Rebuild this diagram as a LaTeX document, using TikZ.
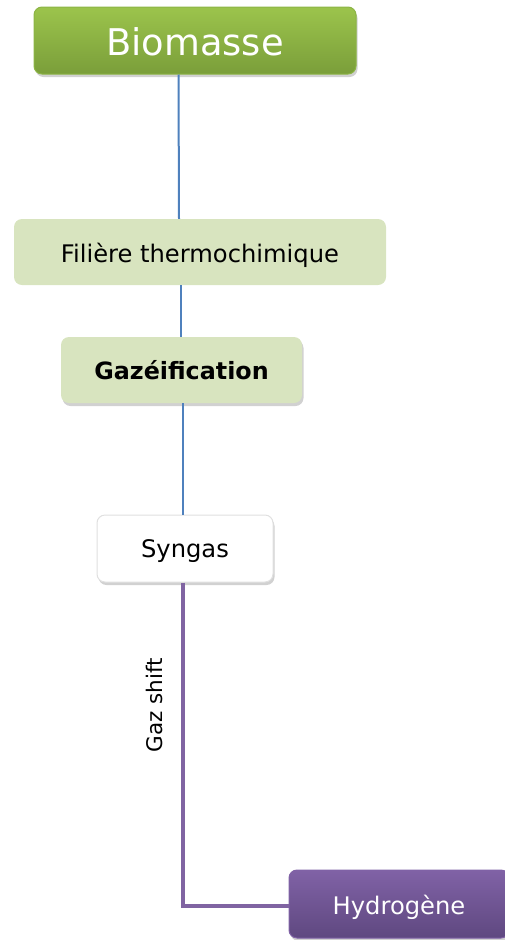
\documentclass[tikz,border=0pt]{standalone}
\usepackage{fontspec}
\setmainfont{DejaVu Sans}
\usetikzlibrary{shadows}
\definecolor{gtop}{HTML}{9CC44C}
\definecolor{gbot}{HTML}{7A9E3A}
\definecolor{gedge}{HTML}{8CB445}
\definecolor{lgreen}{HTML}{D8E4BF}
\definecolor{bline}{HTML}{4F81BD}
\definecolor{ptop}{HTML}{8062A6}
\definecolor{pbot}{HTML}{5F4880}
\definecolor{pline}{HTML}{8064A2}
\tikzset{
  box/.style={rounded corners=8pt, inner sep=0pt, align=center, text height=21pt, text depth=2pt},
  shad/.style={drop shadow={shadow xshift=1.5pt, shadow yshift=-3pt, opacity=0.3, fill=black!60}},
  bconn/.style={draw=bline, line width=2pt},
  pconn/.style={draw=pline, line width=4pt}
}
\begin{document}
\begin{tikzpicture}[x=1pt,y=-1pt]
\useasboundingbox (0,0) rectangle (505,940);
\node[box, shad, top color=gtop, bottom color=gbot, draw=gedge, line width=1pt,
  minimum width=322pt, minimum height=67pt, text=white, font=\fontsize{36.8}{40}\selectfont,
  text height=31pt, text depth=2pt]
  (bio) at (195,40.5) {Biomasse};
\node[box, fill=lgreen, minimum width=372pt, minimum height=66pt,
  font=\fontsize{24.2}{26}\selectfont, text height=23pt]
  (fil) at (200,252) {Filière thermochimique};
\node[box, shad, fill=lgreen, minimum width=241pt, minimum height=66pt,
  font=\bfseries\fontsize{23.8}{26}\selectfont, text height=21.5pt]
  (gaz) at (181.5,370) {Gazéification};
\node[box, shad, fill=white, draw=black!12, line width=1pt, minimum width=176pt, minimum height=67pt,
  font=\fontsize{24.2}{26}\selectfont, text height=20.5pt]
  (syn) at (185,548.5) {Syngas};
\node[box, shad, top color=ptop, bottom color=pbot, draw=ptop, line width=1pt,
  minimum width=220pt, minimum height=68pt, text=white, font=\fontsize{24.2}{26}\selectfont,
  text height=23pt]
  (hyd) at (399,904) {Hydrogène};
\coordinate (c1) at (183,906);
\draw[bconn] (bio.south -| 178.5,0) -- (fil.north -| 179,0);
\draw[bconn] (fil.south -| 180.5,0) -- (gaz.north -| 180.5,0);
\draw[bconn] (gaz.south -| 182.5,0) -- (syn.north -| 182.5,0);
\draw[pconn] (syn.south -| 183,0) -- (c1) -- (hyd.west |- c1);
\node[rotate=90, font=\fontsize{21.5}{24}\selectfont, inner sep=0pt] (lbl) at (154,705) {Gaz shift};
\end{tikzpicture}
\end{document}
